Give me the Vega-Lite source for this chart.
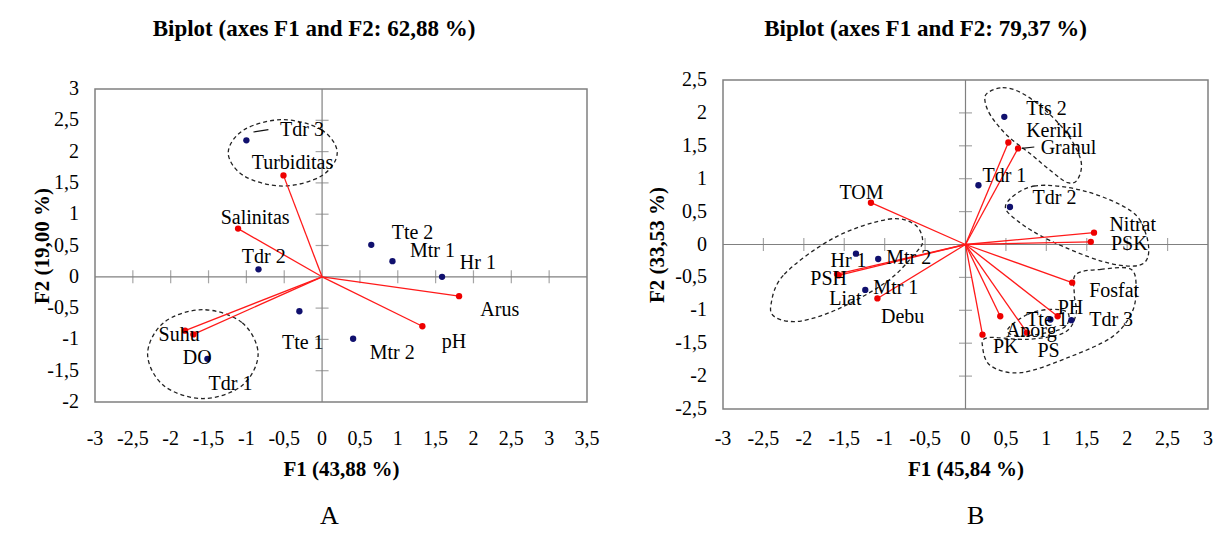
{
  "$schema": "https://vega.github.io/schema/vega-lite/v6.json",
  "padding": {"left": 30, "top": 18, "right": 0, "bottom": 0},
  "background": "white",
  "config": {
    "font": "Liberation Serif",
    "view": {"stroke": "#808080", "strokeWidth": 1.5},
    "axis": {
      "grid": false, "ticks": false, "tickSize": 0, "domain": false, "labels": false,
      "titleFont": "Liberation Serif", "titleFontSize": 21, "titleFontWeight": "bold", "titleColor": "#000"
    },
    "title": {"font": "Liberation Serif", "fontSize": 23, "fontWeight": "bold", "color": "#000", "anchor": "middle"}
  },
  "datasets": {
    "obsA": [
      {"name": "Tdr 3", "x": -1.0, "y": 2.18, "lx": -0.555, "ly": 2.34},
      {"name": "Tdr 2", "x": -0.84, "y": 0.12, "lx": -1.06, "ly": 0.31},
      {"name": "Tte 2", "x": 0.65, "y": 0.51, "lx": 0.92, "ly": 0.695},
      {"name": "Mtr 1", "x": 0.93, "y": 0.25, "lx": 1.16, "ly": 0.42},
      {"name": "Hr 1", "x": 1.585, "y": 0.0, "lx": 1.82, "ly": 0.22},
      {"name": "Tte 1", "x": -0.3, "y": -0.55, "lx": -0.53, "ly": -1.06},
      {"name": "Mtr 2", "x": 0.41, "y": -0.99, "lx": 0.63, "ly": -1.22},
      {"name": "Tdr 1", "x": -1.515, "y": -1.31, "lx": -1.5, "ly": -1.71}
    ],
    "varA": [
      {"name": "Turbiditas", "x": -0.51, "y": 1.62, "lx": -0.93, "ly": 1.82},
      {"name": "Salinitas", "x": -1.11, "y": 0.77, "lx": -1.34, "ly": 0.94},
      {"name": "Arus", "x": 1.81, "y": -0.31, "lx": 2.09, "ly": -0.535},
      {"name": "pH", "x": 1.325, "y": -0.79, "lx": 1.58, "ly": -1.04},
      {"name": "Suhu", "x": -1.81, "y": -0.86, "lx": -2.16, "ly": -0.935},
      {"name": "DO", "x": -1.7, "y": -0.92, "lx": -1.84, "ly": -1.29}
    ],
    "ellA": [
      {"g": 1, "i": 1, "x": 0.2, "y": 1.98},
      {"g": 1, "i": 2, "x": -0.01, "y": 2.35},
      {"g": 1, "i": 3, "x": -0.52, "y": 2.51},
      {"g": 1, "i": 4, "x": -1.03, "y": 2.35},
      {"g": 1, "i": 5, "x": -1.24, "y": 1.98},
      {"g": 1, "i": 6, "x": -1.03, "y": 1.61},
      {"g": 1, "i": 7, "x": -0.52, "y": 1.45},
      {"g": 1, "i": 8, "x": -0.01, "y": 1.61},
      {"g": 2, "i": 1, "x": -0.845, "y": -1.235},
      {"g": 2, "i": 2, "x": -1.06, "y": -0.73},
      {"g": 2, "i": 3, "x": -1.575, "y": -0.525},
      {"g": 2, "i": 4, "x": -2.09, "y": -0.73},
      {"g": 2, "i": 5, "x": -2.305, "y": -1.235},
      {"g": 2, "i": 6, "x": -2.09, "y": -1.74},
      {"g": 2, "i": 7, "x": -1.575, "y": -1.945},
      {"g": 2, "i": 8, "x": -1.06, "y": -1.74}
    ],
    "leadA": [{"x": -0.907, "y": 2.313, "x2": -0.709, "y2": 2.351}],
    "xtA": [{"t": -2.5}, {"t": -2}, {"t": -1.5}, {"t": -1}, {"t": -0.5}, {"t": 0.5}, {"t": 1}, {"t": 1.5}, {"t": 2}, {"t": 2.5}, {"t": 3}],
    "ytA": [{"t": -1.5}, {"t": -1}, {"t": -0.5}, {"t": 0.5}, {"t": 1}, {"t": 1.5}, {"t": 2}, {"t": 2.5}],
    "xlA": [{"v": -3, "lab": "-3"}, {"v": -2.5, "lab": "-2,5"}, {"v": -2, "lab": "-2"}, {"v": -1.5, "lab": "-1,5"}, {"v": -1, "lab": "-1"}, {"v": -0.5, "lab": "-0,5"}, {"v": 0, "lab": "0"}, {"v": 0.5, "lab": "0,5"}, {"v": 1, "lab": "1"}, {"v": 1.5, "lab": "1,5"}, {"v": 2, "lab": "2"}, {"v": 2.5, "lab": "2,5"}, {"v": 3, "lab": "3"}, {"v": 3.5, "lab": "3,5"}],
    "ylA": [{"v": -2, "lab": "-2"}, {"v": -1.5, "lab": "-1,5"}, {"v": -1, "lab": "-1"}, {"v": -0.5, "lab": "-0,5"}, {"v": 0, "lab": "0"}, {"v": 0.5, "lab": "0,5"}, {"v": 1, "lab": "1"}, {"v": 1.5, "lab": "1,5"}, {"v": 2, "lab": "2"}, {"v": 2.5, "lab": "2,5"}, {"v": 3, "lab": "3"}],
    "obsB": [
      {"name": "Tts 2", "x": 0.48, "y": 1.94, "lx": 0.75, "ly": 2.055},
      {"name": "Tdr 1", "x": 0.16, "y": 0.9, "lx": 0.21, "ly": 1.04},
      {"name": "Tdr 2", "x": 0.55, "y": 0.57, "lx": 0.83, "ly": 0.71},
      {"name": "Hr 1", "x": -1.355, "y": -0.14, "lx": -1.67, "ly": -0.25},
      {"name": "Mtr 2", "x": -1.08, "y": -0.22, "lx": -0.98, "ly": -0.2},
      {"name": "Mtr 1", "x": -1.24, "y": -0.69, "lx": -1.14, "ly": -0.66},
      {"name": "Tte 1", "x": 1.05, "y": -1.14, "lx": 0.75, "ly": -1.14},
      {"name": "Tdr 3", "x": 1.31, "y": -1.15, "lx": 1.53, "ly": -1.14}
    ],
    "varB": [
      {"name": "Kerikil", "x": 0.53, "y": 1.55, "lx": 0.75, "ly": 1.725},
      {"name": "Granul", "x": 0.65, "y": 1.46, "lx": 0.93, "ly": 1.46},
      {"name": "TOM", "x": -1.17, "y": 0.635, "lx": -1.56, "ly": 0.79},
      {"name": "Nitrat", "x": 1.59, "y": 0.18, "lx": 1.78, "ly": 0.3},
      {"name": "PSK", "x": 1.55, "y": 0.04, "lx": 1.8, "ly": 0.01},
      {"name": "PSH", "x": -1.59, "y": -0.45, "lx": -1.92, "ly": -0.53},
      {"name": "Liat", "x": -1.57, "y": -0.47, "lx": -1.685, "ly": -0.83},
      {"name": "Debu", "x": -1.09, "y": -0.82, "lx": -1.045, "ly": -1.1},
      {"name": "Fosfat", "x": 1.32, "y": -0.58, "lx": 1.53, "ly": -0.7},
      {"name": "PH", "x": 1.14, "y": -1.09, "lx": 1.14, "ly": -0.97},
      {"name": "PS", "x": 0.43, "y": -1.09, "lx": 0.89, "ly": -1.62},
      {"name": "Anorg", "x": 0.76, "y": -1.34, "lx": 0.5, "ly": -1.315},
      {"name": "PK", "x": 0.21, "y": -1.37, "lx": 0.34, "ly": -1.56}
    ],
    "ellB": [
      {"g": 1, "i": 1, "x": 0.275, "y": 2.307},
      {"g": 1, "i": 2, "x": 0.46, "y": 2.383},
      {"g": 1, "i": 3, "x": 0.687, "y": 2.307},
      {"g": 1, "i": 4, "x": 0.975, "y": 2.055},
      {"g": 1, "i": 5, "x": 1.264, "y": 1.675},
      {"g": 1, "i": 6, "x": 1.429, "y": 1.269},
      {"g": 1, "i": 7, "x": 1.388, "y": 0.991},
      {"g": 1, "i": 8, "x": 1.264, "y": 0.939},
      {"g": 1, "i": 9, "x": 1.058, "y": 1.117},
      {"g": 1, "i": 10, "x": 0.81, "y": 1.371},
      {"g": 1, "i": 11, "x": 0.522, "y": 1.649},
      {"g": 1, "i": 12, "x": 0.315, "y": 1.953},
      {"g": 1, "i": 13, "x": 0.241, "y": 2.181},
      {"g": 2, "i": 1, "x": 0.501, "y": 0.611},
      {"g": 2, "i": 2, "x": 0.851, "y": 0.889},
      {"g": 2, "i": 3, "x": 1.47, "y": 0.813},
      {"g": 2, "i": 4, "x": 2.048, "y": 0.509},
      {"g": 2, "i": 5, "x": 2.233, "y": 0.155},
      {"g": 2, "i": 6, "x": 2.254, "y": -0.2},
      {"g": 2, "i": 7, "x": 2.088, "y": -0.327},
      {"g": 2, "i": 8, "x": 1.676, "y": -0.251},
      {"g": 2, "i": 9, "x": 1.058, "y": 0.053},
      {"g": 2, "i": 10, "x": 0.646, "y": 0.357},
      {"g": 3, "i": 1, "x": -2.406, "y": -0.909},
      {"g": 3, "i": 2, "x": -2.242, "y": -0.453},
      {"g": 3, "i": 3, "x": -1.623, "y": 0.103},
      {"g": 3, "i": 4, "x": -0.963, "y": 0.383},
      {"g": 3, "i": 5, "x": -0.633, "y": 0.307},
      {"g": 3, "i": 6, "x": -0.53, "y": 0.053},
      {"g": 3, "i": 7, "x": -0.633, "y": -0.149},
      {"g": 3, "i": 8, "x": -0.963, "y": -0.555},
      {"g": 3, "i": 9, "x": -1.54, "y": -0.96},
      {"g": 3, "i": 10, "x": -2.035, "y": -1.163},
      {"g": 3, "i": 11, "x": -2.344, "y": -1.112},
      {"g": 4, "i": 1, "x": 1.367, "y": -0.453},
      {"g": 4, "i": 2, "x": 1.676, "y": -0.377},
      {"g": 4, "i": 3, "x": 2.048, "y": -0.377},
      {"g": 4, "i": 4, "x": 2.109, "y": -0.707},
      {"g": 4, "i": 5, "x": 2.048, "y": -1.061},
      {"g": 4, "i": 6, "x": 1.8, "y": -1.416},
      {"g": 4, "i": 7, "x": 1.264, "y": -1.72},
      {"g": 4, "i": 8, "x": 0.687, "y": -1.948},
      {"g": 4, "i": 9, "x": 0.315, "y": -1.847},
      {"g": 4, "i": 10, "x": 0.213, "y": -1.568},
      {"g": 4, "i": 11, "x": 0.275, "y": -1.416},
      {"g": 4, "i": 12, "x": 0.77, "y": -1.441},
      {"g": 4, "i": 13, "x": 1.222, "y": -1.34},
      {"g": 4, "i": 14, "x": 1.367, "y": -1.061},
      {"g": 4, "i": 15, "x": 1.346, "y": -0.757},
      {"g": 5, "i": 1, "x": 0.522, "y": -1.289},
      {"g": 5, "i": 2, "x": 0.77, "y": -1.061},
      {"g": 5, "i": 3, "x": 1.058, "y": -0.985},
      {"g": 5, "i": 4, "x": 1.264, "y": -1.036},
      {"g": 5, "i": 5, "x": 1.243, "y": -1.239},
      {"g": 5, "i": 6, "x": 1.017, "y": -1.34},
      {"g": 5, "i": 7, "x": 0.646, "y": -1.391}
    ],
    "leadB": [{"x": 0.695, "y": 1.462, "x2": 0.851, "y2": 1.482}],
    "xtB": [{"t": -2.5}, {"t": -2}, {"t": -1.5}, {"t": -1}, {"t": -0.5}, {"t": 0.5}, {"t": 1}, {"t": 1.5}, {"t": 2}, {"t": 2.5}],
    "ytB": [{"t": -2}, {"t": -1.5}, {"t": -1}, {"t": -0.5}, {"t": 0.5}, {"t": 1}, {"t": 1.5}, {"t": 2}],
    "xlB": [{"v": -3, "lab": "-3"}, {"v": -2.5, "lab": "-2,5"}, {"v": -2, "lab": "-2"}, {"v": -1.5, "lab": "-1,5"}, {"v": -1, "lab": "-1"}, {"v": -0.5, "lab": "-0,5"}, {"v": 0, "lab": "0"}, {"v": 0.5, "lab": "0,5"}, {"v": 1, "lab": "1"}, {"v": 1.5, "lab": "1,5"}, {"v": 2, "lab": "2"}, {"v": 2.5, "lab": "2,5"}, {"v": 3, "lab": "3"}],
    "ylB": [{"v": -2.5, "lab": "-2,5"}, {"v": -2, "lab": "-2"}, {"v": -1.5, "lab": "-1,5"}, {"v": -1, "lab": "-1"}, {"v": -0.5, "lab": "-0,5"}, {"v": 0, "lab": "0"}, {"v": 0.5, "lab": "0,5"}, {"v": 1, "lab": "1"}, {"v": 1.5, "lab": "1,5"}, {"v": 2, "lab": "2"}, {"v": 2.5, "lab": "2,5"}]
  },
  "spacing": 44,
  "hconcat": [
    {
      "title": {"text": "A", "orient": "bottom", "fontWeight": "normal", "fontSize": 26, "offset": 23, "dx": 14},
      "spacing": 0,
      "vconcat": [
        {
          "title": {"text": "Biplot (axes F1  and F2: 62,88 %)", "offset": 9, "dx": -27},
          "width": 492, "height": 28,
          "view": {"stroke": null},
          "data": {"values": []},
          "mark": "point"
        },
        {
          "width": 492, "height": 313,
          "layer": [
            {
              "data": {"values": [{}]},
              "mark": {"type": "rule", "color": "#808080", "strokeWidth": 1.2},
              "encoding": {
                "x": {"datum": 0, "type": "quantitative",
                  "scale": {"domain": [-3, 3.5], "nice": false, "zero": false},
                  "axis": {"title": "F1 (43,88 %)", "labels": false, "titlePadding": 56.5}}
              }
            },
            {
              "data": {"values": [{}]},
              "mark": {"type": "rule", "color": "#808080", "strokeWidth": 1.2},
              "encoding": {
                "y": {"datum": 0, "type": "quantitative",
                  "scale": {"domain": [-2, 3], "nice": false, "zero": false},
                  "axis": {"title": "F2 (19,00 %)", "labels": false, "titlePadding": 42.5}}
              }
            },
            {
              "data": {"name": "xlA"},
              "mark": {"type": "text", "align": "center", "baseline": "top", "dy": 26.5, "font": "Liberation Serif", "fontSize": 20, "color": "#000"},
              "encoding": {"x": {"field": "v", "type": "quantitative"}, "y": {"datum": -2, "type": "quantitative"}, "text": {"field": "lab"}}
            },
            {
              "data": {"name": "ylA"},
              "mark": {"type": "text", "align": "right", "baseline": "middle", "dx": -16, "font": "Liberation Serif", "fontSize": 20, "color": "#000"},
              "encoding": {"y": {"field": "v", "type": "quantitative"}, "x": {"datum": -3, "type": "quantitative"}, "text": {"field": "lab"}}
            },
            {
              "data": {"name": "xtA"},
              "mark": {"type": "tick", "orient": "vertical", "color": "#808080", "size": 13, "thickness": 1.2},
              "encoding": {"x": {"field": "t", "type": "quantitative"}, "y": {"datum": 0, "type": "quantitative"}}
            },
            {
              "data": {"name": "ytA"},
              "mark": {"type": "tick", "orient": "horizontal", "color": "#808080", "size": 13, "thickness": 1.2},
              "encoding": {"y": {"field": "t", "type": "quantitative"}, "x": {"datum": 0, "type": "quantitative"}}
            },
            {
              "data": {"name": "ellA"},
              "mark": {"type": "line", "interpolate": "cardinal-closed", "strokeDash": [4, 3], "color": "#222", "strokeWidth": 1.3},
              "encoding": {"x": {"field": "x", "type": "quantitative"}, "y": {"field": "y", "type": "quantitative"}, "detail": {"field": "g"}, "order": {"field": "i"}}
            },
            {
              "data": {"name": "varA"},
              "mark": {"type": "rule", "color": "#ff1a1a", "strokeWidth": 1.3},
              "encoding": {"x": {"field": "x", "type": "quantitative"}, "y": {"field": "y", "type": "quantitative"}, "x2": {"datum": 0}, "y2": {"datum": 0}}
            },
            {
              "data": {"name": "varA"},
              "mark": {"type": "point", "filled": true, "color": "#ee0000", "size": 40, "opacity": 1},
              "encoding": {"x": {"field": "x", "type": "quantitative"}, "y": {"field": "y", "type": "quantitative"}}
            },
            {
              "data": {"name": "obsA"},
              "mark": {"type": "point", "filled": true, "color": "#10106e", "size": 40, "opacity": 1},
              "encoding": {"x": {"field": "x", "type": "quantitative"}, "y": {"field": "y", "type": "quantitative"}}
            },
            {
              "data": {"name": "leadA"},
              "mark": {"type": "rule", "color": "#111", "strokeWidth": 1.2},
              "encoding": {"x": {"field": "x", "type": "quantitative"}, "y": {"field": "y", "type": "quantitative"}, "x2": {"field": "x2"}, "y2": {"field": "y2"}}
            },
            {
              "data": {"name": "varA"},
              "mark": {"type": "text", "align": "left", "baseline": "middle", "font": "Liberation Serif", "fontSize": 20, "color": "#000"},
              "encoding": {"x": {"field": "lx", "type": "quantitative"}, "y": {"field": "ly", "type": "quantitative"}, "text": {"field": "name"}}
            },
            {
              "data": {"name": "obsA"},
              "mark": {"type": "text", "align": "left", "baseline": "middle", "font": "Liberation Serif", "fontSize": 20, "color": "#000"},
              "encoding": {"x": {"field": "lx", "type": "quantitative"}, "y": {"field": "ly", "type": "quantitative"}, "text": {"field": "name"}}
            }
          ]
        }
      ]
    },
    {
      "title": {"text": "B", "orient": "bottom", "fontWeight": "normal", "fontSize": 26, "offset": 23, "dx": 46},
      "spacing": 0,
      "vconcat": [
        {
          "title": {"text": "Biplot (axes F1  and F2: 79,37 %)", "offset": 9, "dx": -40},
          "width": 485, "height": 19,
          "view": {"stroke": null},
          "data": {"values": []},
          "mark": "point"
        },
        {
          "width": 485, "height": 329,
          "layer": [
            {
              "data": {"values": [{}]},
              "mark": {"type": "rule", "color": "#808080", "strokeWidth": 1.2},
              "encoding": {
                "x": {"datum": 0, "type": "quantitative",
                  "scale": {"domain": [-3, 3], "nice": false, "zero": false},
                  "axis": {"title": "F1 (45,84 %)", "labels": false, "titlePadding": 49.5}}
              }
            },
            {
              "data": {"values": [{}]},
              "mark": {"type": "rule", "color": "#808080", "strokeWidth": 1.2},
              "encoding": {
                "y": {"datum": 0, "type": "quantitative",
                  "scale": {"domain": [-2.5, 2.5], "nice": false, "zero": false},
                  "axis": {"title": "F2 (33,53 %)", "labels": false, "titlePadding": 55.5}}
              }
            },
            {
              "data": {"name": "xlB"},
              "mark": {"type": "text", "align": "center", "baseline": "top", "dy": 19.5, "font": "Liberation Serif", "fontSize": 20, "color": "#000"},
              "encoding": {"x": {"field": "v", "type": "quantitative"}, "y": {"datum": -2.5, "type": "quantitative"}, "text": {"field": "lab"}}
            },
            {
              "data": {"name": "ylB"},
              "mark": {"type": "text", "align": "right", "baseline": "middle", "dx": -16, "font": "Liberation Serif", "fontSize": 20, "color": "#000"},
              "encoding": {"y": {"field": "v", "type": "quantitative"}, "x": {"datum": -3, "type": "quantitative"}, "text": {"field": "lab"}}
            },
            {
              "data": {"name": "xtB"},
              "mark": {"type": "tick", "orient": "vertical", "color": "#808080", "size": 13, "thickness": 1.2},
              "encoding": {"x": {"field": "t", "type": "quantitative"}, "y": {"datum": 0, "type": "quantitative"}}
            },
            {
              "data": {"name": "ytB"},
              "mark": {"type": "tick", "orient": "horizontal", "color": "#808080", "size": 13, "thickness": 1.2},
              "encoding": {"y": {"field": "t", "type": "quantitative"}, "x": {"datum": 0, "type": "quantitative"}}
            },
            {
              "data": {"name": "ellB"},
              "mark": {"type": "line", "interpolate": "cardinal-closed", "strokeDash": [4, 3], "color": "#222", "strokeWidth": 1.3},
              "encoding": {"x": {"field": "x", "type": "quantitative"}, "y": {"field": "y", "type": "quantitative"}, "detail": {"field": "g"}, "order": {"field": "i"}}
            },
            {
              "data": {"name": "varB"},
              "mark": {"type": "rule", "color": "#ff1a1a", "strokeWidth": 1.3},
              "encoding": {"x": {"field": "x", "type": "quantitative"}, "y": {"field": "y", "type": "quantitative"}, "x2": {"datum": 0}, "y2": {"datum": 0}}
            },
            {
              "data": {"name": "varB"},
              "mark": {"type": "point", "filled": true, "color": "#ee0000", "size": 40, "opacity": 1},
              "encoding": {"x": {"field": "x", "type": "quantitative"}, "y": {"field": "y", "type": "quantitative"}}
            },
            {
              "data": {"name": "obsB"},
              "mark": {"type": "point", "filled": true, "color": "#10106e", "size": 40, "opacity": 1},
              "encoding": {"x": {"field": "x", "type": "quantitative"}, "y": {"field": "y", "type": "quantitative"}}
            },
            {
              "data": {"name": "leadB"},
              "mark": {"type": "rule", "color": "#111", "strokeWidth": 1.2},
              "encoding": {"x": {"field": "x", "type": "quantitative"}, "y": {"field": "y", "type": "quantitative"}, "x2": {"field": "x2"}, "y2": {"field": "y2"}}
            },
            {
              "data": {"name": "varB"},
              "mark": {"type": "text", "align": "left", "baseline": "middle", "font": "Liberation Serif", "fontSize": 20, "color": "#000"},
              "encoding": {"x": {"field": "lx", "type": "quantitative"}, "y": {"field": "ly", "type": "quantitative"}, "text": {"field": "name"}}
            },
            {
              "data": {"name": "obsB"},
              "mark": {"type": "text", "align": "left", "baseline": "middle", "font": "Liberation Serif", "fontSize": 20, "color": "#000"},
              "encoding": {"x": {"field": "lx", "type": "quantitative"}, "y": {"field": "ly", "type": "quantitative"}, "text": {"field": "name"}}
            }
          ]
        }
      ]
    }
  ]
}
